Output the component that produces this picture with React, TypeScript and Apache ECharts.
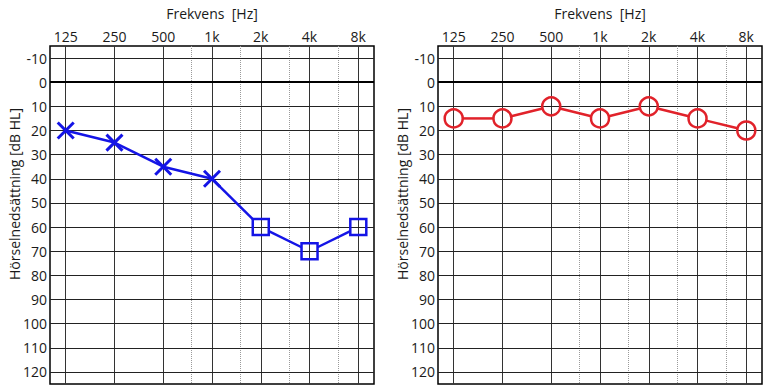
import React, { useEffect, useRef } from 'react';
import * as echarts from 'echarts';

const FREQ_HZ = [125, 250, 500, 1000, 2000, 4000, 8000];
const FREQ_LABELS = ['125', '250', '500', '1k', '2k', '4k', '8k'];
const HALF_OCTAVE_HZ = [750, 1500, 3000, 6000];
const DB_TICKS = [-10, 0, 10, 20, 30, 40, 50, 60, 70, 80, 90, 100, 110, 120];
const LEFT_DB = [20, 25, 35, 40, 60, 70, 60];
const LEFT_SYMBOLS = ['cross', 'cross', 'cross', 'cross', 'square', 'square', 'square'];
const RIGHT_DB = [15, 15, 10, 15, 10, 15, 20];
const RIGHT_SYMBOLS = ['circle', 'circle', 'circle', 'circle', 'circle', 'circle', 'circle'];
const X_MIN_HZ = 100;
const X_MAX_HZ = 10000;
const Y_MIN = -15;
const Y_MAX = 125;
const TITLE = 'Frekvens  [Hz]';
const Y_NAME = 'Hörselnedsättning [dB HL]';

const BLUE = '#1414e6';
const RED = '#e1222a';
const FONT = '"Open Sans", "Noto Sans", sans-serif';

const pos = (f: number) => Math.log2(f / 125);

const SYMBOL_DEF: Record<string, { symbol: string; size: number; r: number; stroke: number }> = {
  cross: { symbol: 'path://M0,0L10,10M10,0L0,10', size: 16, r: 0, stroke: 3 },
  square: { symbol: 'rect', size: 16, r: 8, stroke: 2.5 },
  circle: { symbol: 'circle', size: 18, r: 9, stroke: 2.5 },
};

function trim(kind: string, ux: number, uy: number) {
  const d = SYMBOL_DEF[kind];
  if (kind === 'square') return d.r / Math.max(Math.abs(ux), Math.abs(uy));
  return d.r;
}

function makeSeries(idx: number, dbs: number[], syms: string[], color: string) {
  const gridSeries = {
    type: 'line',
    xAxisIndex: idx,
    yAxisIndex: idx,
    data: [],
    silent: true,
    markLine: {
      silent: true,
      symbol: ['none', 'none'],
      label: { show: false },
      z: 1,
      data: [
        ...FREQ_HZ.map((f) => ({ xAxis: pos(f), lineStyle: { color: '#333', width: 1, type: 'solid' } })),
        ...HALF_OCTAVE_HZ.map((f) => ({ xAxis: pos(f), lineStyle: { color: '#9a9a9a', width: 1, type: 'dotted' } })),
        ...DB_TICKS.map((v) => ({
          yAxis: v,
          lineStyle: { color: v === 0 ? '#000' : '#222', width: v === 0 ? 2 : 1, type: 'solid' },
        })),
      ],
    },
  };
  const lineSeries = {
    type: 'custom',
    xAxisIndex: idx,
    yAxisIndex: idx,
    z: 10,
    silent: true,
    encode: { x: 0, y: 1 },
    data: dbs.map((v, i) => [pos(FREQ_HZ[i]), v]),
    renderItem: (params: any, api: any) => {
      const i = params.dataIndex;
      if (i >= dbs.length - 1) return { type: 'group', children: [] };
      const a = api.coord([pos(FREQ_HZ[i]), dbs[i]]);
      const b = api.coord([pos(FREQ_HZ[i + 1]), dbs[i + 1]]);
      const dx = b[0] - a[0];
      const dy = b[1] - a[1];
      const len = Math.hypot(dx, dy);
      const ux = dx / len;
      const uy = dy / len;
      const s = trim(syms[i], ux, uy);
      const e = trim(syms[i + 1], ux, uy);
      return {
        type: 'line',
        shape: { x1: a[0] + ux * s, y1: a[1] + uy * s, x2: b[0] - ux * e, y2: b[1] - uy * e },
        style: { stroke: color, lineWidth: 2.5 },
      };
    },
  };
  const markerSeries = {
    type: 'scatter',
    xAxisIndex: idx,
    yAxisIndex: idx,
    z: 11,
    silent: true,
    data: dbs.map((v, i) => ({
      value: [pos(FREQ_HZ[i]), v],
      symbol: SYMBOL_DEF[syms[i]].symbol,
      symbolSize: SYMBOL_DEF[syms[i]].size,
      itemStyle: { color: 'rgba(0,0,0,0)', borderColor: color, borderWidth: SYMBOL_DEF[syms[i]].stroke, opacity: 1 },
    })),
  };
  return [gridSeries, lineSeries, markerSeries];
}

function makeXAxis(idx: number) {
  return {
    type: 'value',
    gridIndex: idx,
    position: 'top',
    min: pos(X_MIN_HZ),
    max: pos(X_MAX_HZ),
    axisLine: { show: false },
    axisTick: { show: false },
    splitLine: { show: false },
    axisLabel: {
      customValues: FREQ_HZ.map(pos),
      formatter: (v: number) => {
        const i = FREQ_HZ.findIndex((f) => Math.abs(pos(f) - v) < 1e-6);
        return i >= 0 ? FREQ_LABELS[i] : '';
      },
      margin: 3,
      color: '#1a1a1a',
      fontSize: 14,
      fontFamily: FONT,
    },
  };
}

function makeYAxis(idx: number) {
  return {
    type: 'value',
    gridIndex: idx,
    inverse: true,
    min: Y_MIN,
    max: Y_MAX,
    axisLine: { show: false },
    axisTick: { show: false },
    splitLine: { show: false },
    axisLabel: {
      customValues: DB_TICKS,
      margin: 3,
      color: '#1a1a1a',
      fontSize: 14,
      fontFamily: FONT,
    },
  };
}

export default function App() {
  const ref = useRef<HTMLDivElement>(null);
  useEffect(() => {
    if (!ref.current) return;
    const chart = echarts.init(ref.current, undefined, { renderer: 'svg' });
    const grids = [
      { left: 50, top: 46, width: 324, height: 338 },
      { left: 438, top: 46, width: 324, height: 338 },
    ];
    const textStyle = { fill: '#1a1a1a', font: `14px ${FONT}`, align: 'center', verticalAlign: 'middle' };
    chart.setOption({
      animation: false,
      backgroundColor: '#fff',
      grid: grids.map((g) => ({ ...g, show: true, borderColor: '#000', borderWidth: 1.5, backgroundColor: 'transparent' })),
      xAxis: [makeXAxis(0), makeXAxis(1)],
      yAxis: [makeYAxis(0), makeYAxis(1)],
      series: [...makeSeries(0, LEFT_DB, LEFT_SYMBOLS, BLUE), ...makeSeries(1, RIGHT_DB, RIGHT_SYMBOLS, RED)],
      graphic: grids.flatMap((g) => [
        { type: 'text', x: g.left + g.width / 2, y: 13, style: { ...textStyle, text: TITLE } },
        { type: 'text', x: g.left - 36, y: 194, rotation: Math.PI / 2, style: { ...textStyle, text: Y_NAME } },
      ]),
    });
    return () => chart.dispose();
  }, []);
  return <div ref={ref} style={{ position: 'fixed', left: 0, top: 0, width: 778, height: 390 }} />;
}
